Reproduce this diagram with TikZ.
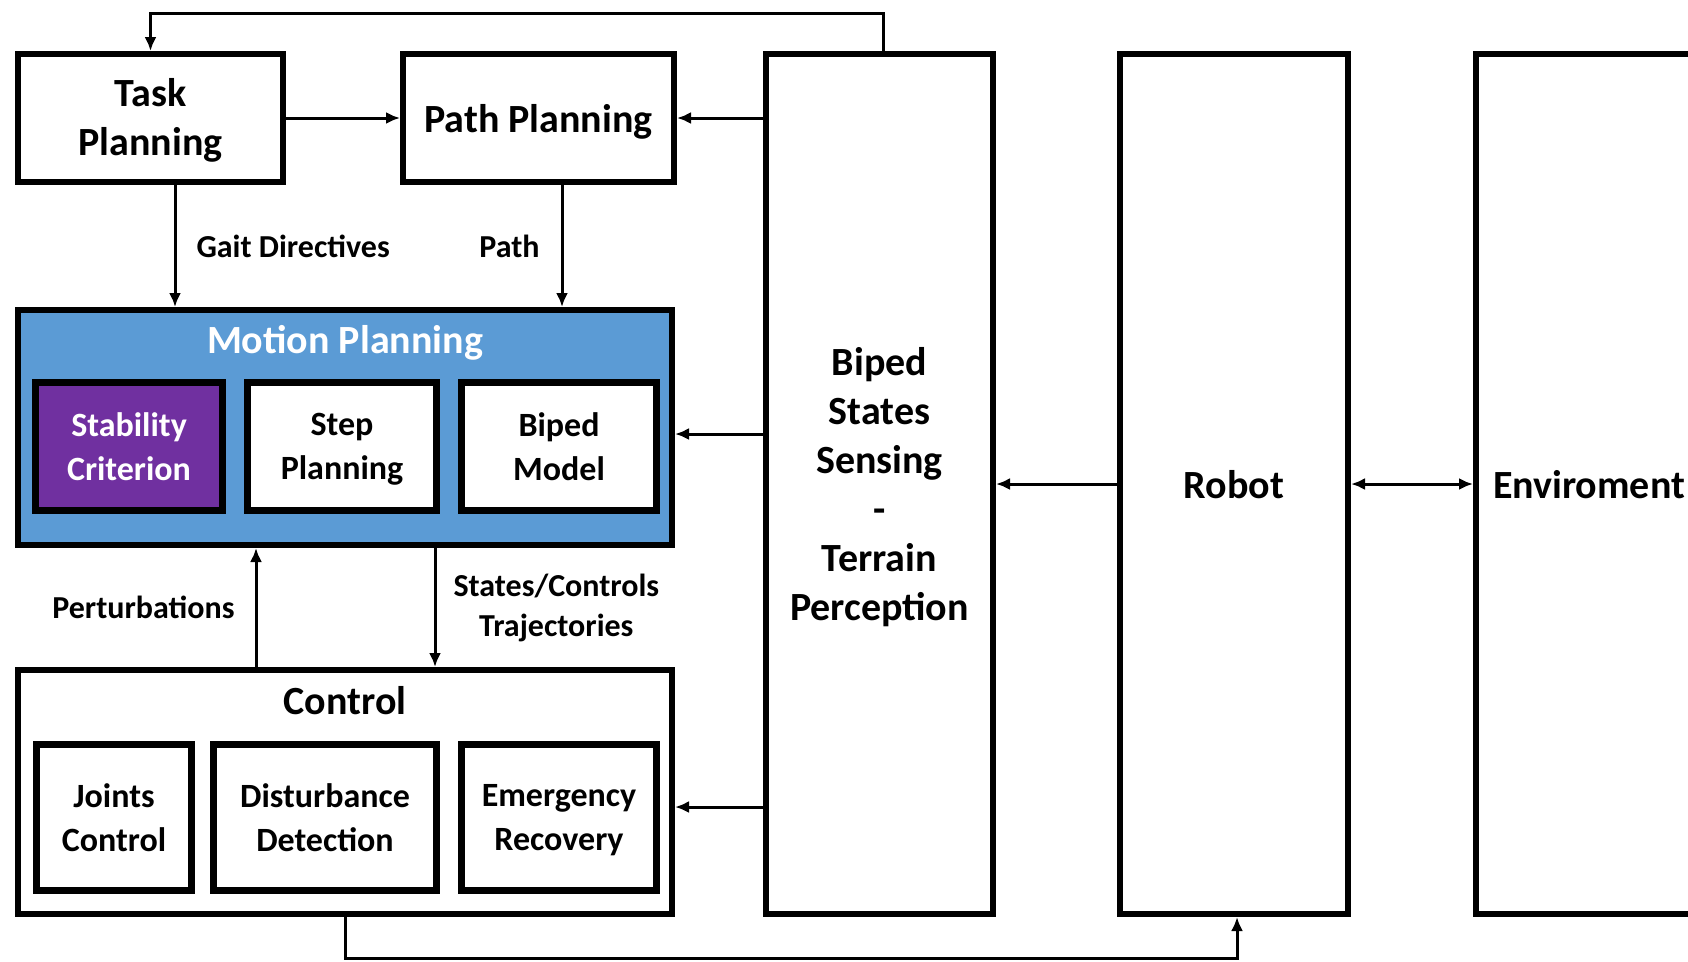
\documentclass[tikz,border=0pt]{standalone}
\usepackage{fontspec}
\setmainfont{Carlito}
\usetikzlibrary{arrows.meta,positioning}
\definecolor{mpblue}{HTML}{5B9BD5}
\definecolor{critpurple}{HTML}{7030A0}
\newcommand{\bigtxt}{\fontsize{40}{49}\selectfont\bfseries}
\newcommand{\midtxt}{\fontsize{34}{44}\selectfont\bfseries}
\newcommand{\lbltxt}{\fontsize{32}{40}\selectfont\bfseries}

\begin{document}
\begin{tikzpicture}[x=1pt,y=-1pt,
	block/.style={draw,line width=6pt,fill=white,align=center,inner sep=0pt,font=\bigtxt,text depth=0pt},
	subblock/.style={draw,line width=7pt,fill=white,align=center,inner sep=0pt,font=\midtxt,text depth=-4pt},
	link/.style={line width=3pt,-{Latex[length=14pt,width=12pt]}},
	lbl/.style={font=\lbltxt,align=center,inner sep=0pt}]
	\useasboundingbox (0,0) rectangle (1688,961);

	% planning blocks
	\node[block,text depth=3pt,minimum width=265pt,minimum height=128pt] (task) at (150.5,118) {Task\\Planning};
	\node[block,minimum width=271pt,minimum height=128pt,right=114pt of task] (path) {Path Planning};

	\node[block,fill=mpblue,minimum width=654pt,minimum height=235pt] (motion) at (345,427.5) {};
	\node[font=\bigtxt,text=white] (mptitle) at ([yshift=-36pt]motion.north) {Motion Planning};
	\node[subblock,fill=critpurple,text=white,minimum width=187pt,minimum height=128pt] (stab) at (129,446.5) {Stability\\Criterion};
	\node[subblock,minimum width=189pt,minimum height=128pt,right=18pt of stab] (step) {Step\\Planning};
	\node[subblock,minimum width=195pt,minimum height=128pt,right=18pt of step] (model) {Biped\\Model};

	\node[block,minimum width=654pt,minimum height=244pt] (control) at (345,792) {};
	\node[font=\bigtxt] (ctitle) at ([yshift=-34pt]control.north) {Control};
	\node[subblock,minimum width=155pt,minimum height=146pt] (joints) at (114,817.5) {Joints\\Control};
	\node[subblock,minimum width=223pt,minimum height=146pt,right=15pt of joints] (dist) {Disturbance\\Detection};
	\node[subblock,minimum width=195pt,minimum height=146pt,right=18pt of dist] (emerg) {Emergency\\Recovery};

	% tall blocks
	\node[block,minimum width=227pt,minimum height=860pt] (sense) at (879.5,484) {Biped\\States\\Sensing\\-\\Terrain\\Perception};
	\node[block,minimum width=228pt,minimum height=860pt,right=121pt of sense] (robot) {Robot};
	\node[block,minimum width=226pt,minimum height=860pt,right=122pt of robot] (env) {Enviroment};

	\coordinate (topline) at (500,13);
	\coordinate (botline) at (800,958);

	% connectors
	\draw[link] (task.east) -- (path.west);
	\draw[link] (sense.west |- path.east) -- (path.east);
	\draw[link] ([xshift=3.5pt]sense.north) |- (topline) -| (task.north);
	\draw[link] ([xshift=24.5pt]task.south) -- ([xshift=24.5pt]task.south |- motion.north)
		node[midway,right=20pt,lbl] {Gait Directives};
	\draw[link] ([xshift=23.5pt]path.south) -- ([xshift=23.5pt]path.south |- motion.north)
		node[midway,left=21pt,lbl] {Path};
	\draw[link] (sense.west |- 0,434) -- (motion.east |- 0,434);
	\draw[link] (sense.west |- 0,807) -- (control.east |- 0,807);
	\draw[link] ([xshift=-89pt]control.north) -- ([xshift=-89pt]motion.south)
		node[midway,left=20pt,lbl] {Perturbations};
	\draw[link] ([xshift=90pt]motion.south) -- ([xshift=90pt]control.north)
		node[midway,right=17pt,lbl] {States/Controls\\Trajectories};
	\draw[link] (robot.west) -- (sense.east);
	\draw[link,{Latex[length=14pt,width=12pt]}-{Latex[length=14pt,width=12pt]}] (robot.east) -- (env.west);
	\draw[link] (control.south) |- (botline) -| ([xshift=3pt]robot.south);
\end{tikzpicture}
\end{document}
